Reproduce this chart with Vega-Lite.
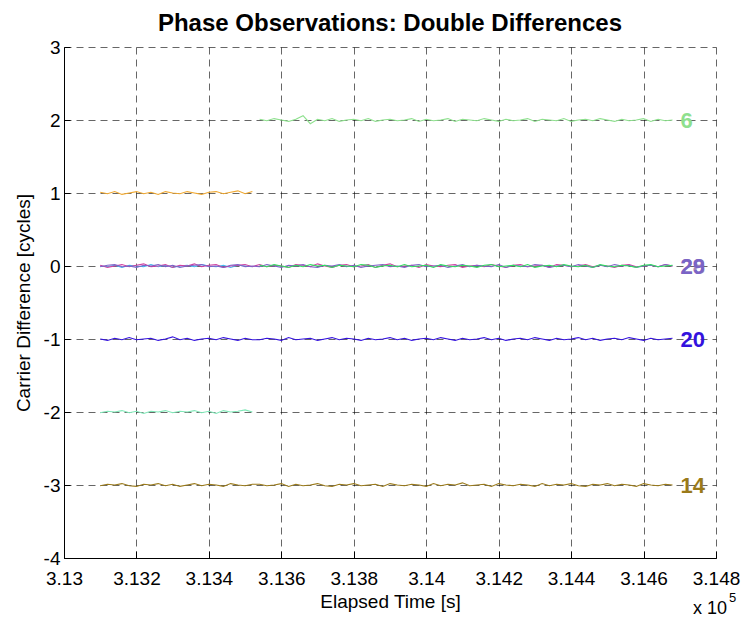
{
  "$schema": "https://vega.github.io/schema/vega-lite/v6.json",
  "width": 652,
  "height": 511,
  "autosize": {"type": "none"},
  "padding": {"left": 64, "top": 47, "right": 28, "bottom": 63},
  "background": "white",
  "title": {"text": "Phase Observations: Double Differences", "font": "Liberation Sans", "fontSize": 24, "fontWeight": "bold", "color": "#000", "anchor": "middle", "offset": 2},
  "datasets": {
    "obs": [
      {"t": 313100, "o": 1.01, "c": 0.0, "q": -2.01, "m": 0.01, "p": -0.01, "b": -1.0, "y": -3.01},
      {"t": 313120, "o": 0.99, "c": -0.01, "q": -1.99, "m": -0.02, "p": 0.01, "b": -1.02, "y": -2.99},
      {"t": 313140, "o": 1.02, "c": 0.01, "q": -2.0, "m": 0.0, "p": 0.02, "b": -0.99, "y": -3.0},
      {"t": 313160, "o": 0.98, "c": -0.02, "q": -1.98, "m": 0.02, "p": -0.01, "b": -1.01, "y": -2.98},
      {"t": 313180, "o": 1.0, "c": 0.01, "q": -2.01, "m": -0.01, "p": 0.0, "b": -0.98, "y": -3.01},
      {"t": 313200, "o": 1.02, "c": 0.0, "q": -1.99, "m": 0.01, "p": -0.02, "b": -1.01, "y": -3.02},
      {"t": 313220, "o": 0.99, "c": -0.01, "q": -2.02, "m": 0.03, "p": 0.01, "b": -1.0, "y": -2.99},
      {"t": 313240, "o": 1.01, "c": 0.02, "q": -1.99, "m": -0.01, "p": 0.0, "b": -0.99, "y": -3.0},
      {"t": 313260, "o": 0.98, "c": -0.01, "q": -2.0, "m": 0.0, "p": 0.02, "b": -1.02, "y": -2.98},
      {"t": 313280, "o": 1.02, "c": 0.01, "q": -1.98, "m": 0.02, "p": -0.01, "b": -1.0, "y": -3.01},
      {"t": 313300, "o": 1.0, "c": -0.02, "q": -2.01, "m": -0.02, "p": 0.01, "b": -0.97, "y": -2.99},
      {"t": 313320, "o": 0.99, "c": 0.0, "q": -1.99, "m": 0.01, "p": -0.02, "b": -1.01, "y": -3.02},
      {"t": 313340, "o": 1.02, "c": 0.01, "q": -2.0, "m": 0.0, "p": 0.0, "b": -0.99, "y": -3.0},
      {"t": 313360, "o": 1.0, "c": -0.01, "q": -1.98, "m": 0.03, "p": 0.01, "b": -1.02, "y": -2.98},
      {"t": 313380, "o": 0.98, "c": 0.02, "q": -2.01, "m": -0.01, "p": 0.02, "b": -1.0, "y": -3.01},
      {"t": 313400, "o": 1.01, "c": 0.0, "q": -1.99, "m": 0.01, "p": -0.01, "b": -0.99, "y": -2.99},
      {"t": 313420, "o": 1.02, "c": -0.01, "q": -2.02, "m": 0.02, "p": 0.0, "b": -1.01, "y": -3.0},
      {"t": 313440, "o": 0.99, "c": 0.01, "q": -1.98, "m": -0.02, "p": -0.02, "b": -0.98, "y": -3.02},
      {"t": 313460, "o": 1.01, "c": -0.02, "q": -2.0, "m": 0.0, "p": 0.01, "b": -1.0, "y": -2.98},
      {"t": 313480, "o": 1.03, "c": 0.01, "q": -1.99, "m": 0.01, "p": 0.02, "b": -1.02, "y": -3.0},
      {"t": 313500, "o": 0.99, "c": 0.0, "q": -1.97, "m": 0.02, "p": -0.01, "b": -0.99, "y": -3.01},
      {"t": 313520, "o": 1.02, "c": -0.01, "q": -2.0, "m": -0.01, "p": 0.0, "b": -1.01, "y": -2.99},
      {"t": 313540, "g": 2.01, "m": 0.02, "n": 0.01, "p": -0.01, "b": -1.01, "y": -2.99},
      {"t": 313560, "g": 1.99, "m": -0.01, "n": -0.01, "p": 0.02, "b": -0.99, "y": -3.01},
      {"t": 313580, "g": 2.02, "m": 0.01, "n": 0.02, "p": 0.0, "b": -1.0, "y": -3.0},
      {"t": 313600, "g": 2.0, "m": 0.0, "n": 0.0, "p": -0.02, "b": -1.02, "y": -2.98},
      {"t": 313620, "g": 1.98, "m": -0.02, "n": -0.02, "p": 0.01, "b": -0.98, "y": -3.02},
      {"t": 313640, "g": 2.01, "m": 0.02, "n": 0.01, "p": 0.0, "b": -1.01, "y": -2.99},
      {"t": 313660, "g": 2.06, "m": 0.01, "n": -0.01, "p": 0.02, "b": -1.0, "y": -3.01},
      {"t": 313680, "g": 1.95, "m": -0.01, "n": 0.02, "p": -0.01, "b": -0.99, "y": -3.0},
      {"t": 313700, "g": 2.01, "m": 0.03, "n": 0.0, "p": -0.02, "b": -1.02, "y": -2.98},
      {"t": 313720, "g": 1.99, "m": 0.0, "n": 0.01, "p": 0.01, "b": -1.0, "y": -3.01},
      {"t": 313740, "g": 2.02, "m": -0.02, "n": -0.02, "p": 0.0, "b": -0.98, "y": -3.02},
      {"t": 313760, "g": 1.98, "m": 0.01, "n": 0.01, "p": 0.02, "b": -1.01, "y": -2.99},
      {"t": 313780, "g": 2.0, "m": 0.02, "n": 0.0, "p": -0.01, "b": -0.99, "y": -3.0},
      {"t": 313800, "g": 2.01, "m": -0.01, "n": -0.01, "p": 0.01, "b": -1.0, "y": -2.98},
      {"t": 313820, "g": 1.99, "m": 0.0, "n": 0.02, "p": -0.02, "b": -1.02, "y": -3.01},
      {"t": 313840, "g": 2.02, "m": 0.02, "n": 0.01, "p": 0.0, "b": -0.99, "y": -3.0},
      {"t": 313860, "g": 1.98, "m": -0.02, "n": -0.02, "p": 0.01, "b": -1.01, "y": -2.99},
      {"t": 313880, "g": 2.0, "m": 0.01, "n": 0.0, "p": 0.02, "b": -1.0, "y": -3.02},
      {"t": 313900, "g": 2.01, "m": 0.03, "n": 0.01, "p": -0.01, "b": -0.98, "y": -2.98},
      {"t": 313920, "g": 1.99, "m": -0.01, "n": -0.01, "p": 0.0, "b": -1.01, "y": -3.0},
      {"t": 313940, "g": 2.0, "m": 0.0, "n": 0.02, "p": -0.02, "b": -0.99, "y": -3.01},
      {"t": 313960, "g": 2.02, "m": 0.01, "n": -0.01, "p": 0.01, "b": -1.02, "y": -2.99},
      {"t": 313980, "g": 1.98, "m": -0.02, "n": 0.0, "p": 0.02, "b": -1.0, "y": -3.0},
      {"t": 314000, "g": 2.01, "m": 0.02, "n": 0.01, "p": -0.01, "b": -0.99, "y": -3.02},
      {"t": 314020, "g": 1.99, "m": 0.0, "n": -0.02, "p": 0.0, "b": -1.01, "y": -2.98},
      {"t": 314040, "g": 2.0, "m": -0.01, "n": 0.02, "p": 0.01, "b": -0.98, "y": -3.01},
      {"t": 314060, "g": 2.02, "m": 0.01, "n": 0.0, "p": -0.02, "b": -1.0, "y": -2.99},
      {"t": 314080, "g": 1.98, "m": 0.02, "n": -0.01, "p": 0.0, "b": -1.02, "y": -3.0},
      {"t": 314100, "g": 2.01, "m": -0.02, "n": 0.01, "p": 0.02, "b": -0.99, "y": -2.97},
      {"t": 314120, "g": 2.0, "m": 0.0, "n": 0.0, "p": -0.01, "b": -1.01, "y": -3.01},
      {"t": 314140, "g": 1.99, "m": 0.01, "n": -0.02, "p": 0.01, "b": -1.0, "y": -3.0},
      {"t": 314160, "g": 2.02, "m": -0.01, "n": 0.01, "p": 0.0, "b": -0.98, "y": -2.99},
      {"t": 314180, "g": 2.0, "m": 0.02, "n": 0.02, "p": -0.01, "b": -1.01, "y": -3.02},
      {"t": 314200, "g": 1.98, "m": 0.0, "n": -0.01, "p": 0.02, "b": -0.99, "y": -2.98},
      {"t": 314220, "g": 2.01, "m": -0.02, "n": 0.0, "p": -0.02, "b": -1.02, "y": -3.0},
      {"t": 314240, "g": 1.99, "m": 0.01, "n": 0.01, "p": 0.01, "b": -1.0, "y": -3.01},
      {"t": 314260, "g": 2.0, "m": 0.02, "n": -0.01, "p": 0.0, "b": -0.99, "y": -2.99},
      {"t": 314280, "g": 2.02, "m": -0.01, "n": 0.02, "p": -0.01, "b": -1.01, "y": -3.0},
      {"t": 314300, "g": 1.98, "m": 0.0, "n": -0.02, "p": 0.02, "b": -0.98, "y": -3.02},
      {"t": 314320, "g": 2.01, "m": 0.01, "n": 0.0, "p": 0.01, "b": -1.0, "y": -2.98},
      {"t": 314340, "g": 2.0, "m": -0.02, "n": 0.01, "p": -0.02, "b": -1.02, "y": -3.01},
      {"t": 314360, "g": 1.99, "m": 0.02, "n": -0.01, "p": 0.0, "b": -0.99, "y": -2.99},
      {"t": 314380, "g": 2.02, "m": 0.01, "n": 0.02, "p": 0.01, "b": -1.01, "y": -3.0},
      {"t": 314400, "g": 1.98, "m": -0.01, "n": 0.0, "p": -0.01, "b": -1.0, "y": -2.98},
      {"t": 314420, "g": 2.0, "m": 0.0, "n": -0.01, "p": 0.02, "b": -0.98, "y": -3.01},
      {"t": 314440, "g": 2.01, "m": 0.02, "n": 0.01, "p": 0.0, "b": -1.01, "y": -3.02},
      {"t": 314460, "g": 1.99, "m": -0.01, "n": -0.02, "p": -0.02, "b": -0.99, "y": -2.99},
      {"t": 314480, "g": 2.02, "m": 0.01, "n": 0.02, "p": 0.01, "b": -1.02, "y": -3.0},
      {"t": 314500, "g": 2.0, "m": 0.0, "n": 0.0, "p": -0.01, "b": -1.0, "y": -2.98},
      {"t": 314520, "g": 1.98, "m": -0.02, "n": -0.01, "p": 0.02, "b": -0.99, "y": -3.01},
      {"t": 314540, "g": 2.01, "m": 0.01, "n": 0.01, "p": 0.0, "b": -1.01, "y": -2.99},
      {"t": 314560, "g": 1.99, "m": 0.02, "n": 0.0, "p": 0.01, "b": -0.98, "y": -3.0},
      {"t": 314580, "g": 2.0, "m": -0.01, "n": -0.02, "p": -0.02, "b": -1.0, "y": -3.02},
      {"t": 314600, "g": 2.02, "m": 0.0, "n": 0.01, "p": 0.0, "b": -1.02, "y": -2.98},
      {"t": 314620, "g": 1.98, "m": 0.01, "n": 0.02, "p": 0.01, "b": -0.99, "y": -3.0},
      {"t": 314640, "g": 2.01, "m": -0.01, "n": -0.01, "p": -0.01, "b": -1.01, "y": -3.01},
      {"t": 314660, "g": 1.99, "m": 0.02, "n": 0.0, "p": 0.02, "b": -1.0, "y": -2.99},
      {"t": 314680, "g": 2.0, "m": 0.0, "n": 0.01, "p": 0.0, "b": -0.99, "y": -3.0}
    ],
    "labels": [
      {"t": 314680, "v": 2, "s": "g", "label": "6"},
      {"t": 314680, "v": 0, "s": "l28", "label": "28"},
      {"t": 314680, "v": 0, "s": "l29", "label": "29"},
      {"t": 314680, "v": -1, "s": "b", "label": "20"},
      {"t": 314680, "v": -3, "s": "y", "label": "14"}
    ],
    "mult": [{"t": 314800, "v": -4, "base": "x 10", "exp": "5"}]
  },
  "encoding": {
    "x": {
      "field": "t", "type": "quantitative",
      "scale": {"domain": [313000, 314800], "nice": false, "zero": false},
      "axis": {"values": [313000, 313200, 313400, 313600, 313800, 314000, 314200, 314400, 314600, 314800], "labelExpr": "format(datum.value/100000, '.4~f')", "title": "Elapsed Time [s]"}
    },
    "y": {
      "field": "v", "type": "quantitative",
      "scale": {"domain": [-4, 3], "nice": false, "zero": false},
      "axis": {"values": [-4, -3, -2, -1, 0, 1, 2, 3], "labelExpr": "'' + datum.value", "title": "Carrier Difference [cycles]"}
    }
  },
  "layer": [
    {
      "data": {"name": "obs"},
      "transform": [
        {"fold": ["o", "c", "q", "g", "m", "n", "p", "b", "y"], "as": ["s", "v"]},
        {"filter": "isValid(datum.v)"}
      ],
      "mark": {"type": "line", "strokeWidth": 1.2, "clip": true},
      "encoding": {
        "color": {
          "field": "s", "type": "nominal", "legend": null,
          "scale": {
            "domain": ["o", "c", "q", "g", "m", "n", "p", "b", "y", "l28", "l29"],
            "range": ["#F0A830", "#40B8F0", "#80E8B8", "#8EE08E", "#D040A0", "#30E060", "#7F63C8", "#3412DE", "#9A7A1A", "#A08AB8", "#7A64C6"]
          }
        }
      }
    },
    {
      "data": {"name": "labels"},
      "mark": {"type": "text", "align": "left", "baseline": "middle", "dx": 8, "dy": 1, "font": "Liberation Sans", "fontSize": 22, "fontWeight": "bold"},
      "encoding": {
        "text": {"field": "label", "type": "nominal"},
        "color": {
          "field": "s", "type": "nominal", "legend": null,
          "scale": {
            "domain": ["o", "c", "q", "g", "m", "n", "p", "b", "y", "l28", "l29"],
            "range": ["#F0A830", "#40B8F0", "#80E8B8", "#8EE08E", "#D040A0", "#30E060", "#7F63C8", "#3412DE", "#9A7A1A", "#A08AB8", "#7A64C6"]
          }
        }
      }
    },
    {
      "data": {"name": "mult"},
      "mark": {"type": "text", "align": "right", "baseline": "alphabetic", "dx": 11, "dy": 56, "font": "Liberation Sans", "fontSize": 18, "fill": "#000"},
      "encoding": {
        "text": {"field": "base", "type": "nominal"}
      }
    },
    {
      "data": {"name": "mult"},
      "mark": {"type": "text", "align": "left", "baseline": "alphabetic", "dx": 13, "dy": 44, "font": "Liberation Sans", "fontSize": 13, "fill": "#000"},
      "encoding": {
        "text": {"field": "exp", "type": "nominal"}
      }
    }
  ],
  "config": {
    "view": {"stroke": null},
    "axis": {
      "grid": true, "gridColor": "#000", "gridDash": [7, 5], "gridWidth": 1, "gridOpacity": 0.6,
      "domainColor": "#000", "domainWidth": 1, "tickColor": "#000", "tickSize": -7,
      "labelFont": "Liberation Sans", "labelFontSize": 19, "labelColor": "#000",
      "titleFont": "Liberation Sans", "titleFontSize": 19, "titleFontWeight": "normal", "titleColor": "#000",
      "labelFlush": false, "labelOverlap": false, "labelBound": false
    },
    "axisX": {"labelPadding": 18, "titlePadding": 4},
    "axisY": {"labelPadding": 10, "titlePadding": 10, "tickSize": -6}
  }
}
